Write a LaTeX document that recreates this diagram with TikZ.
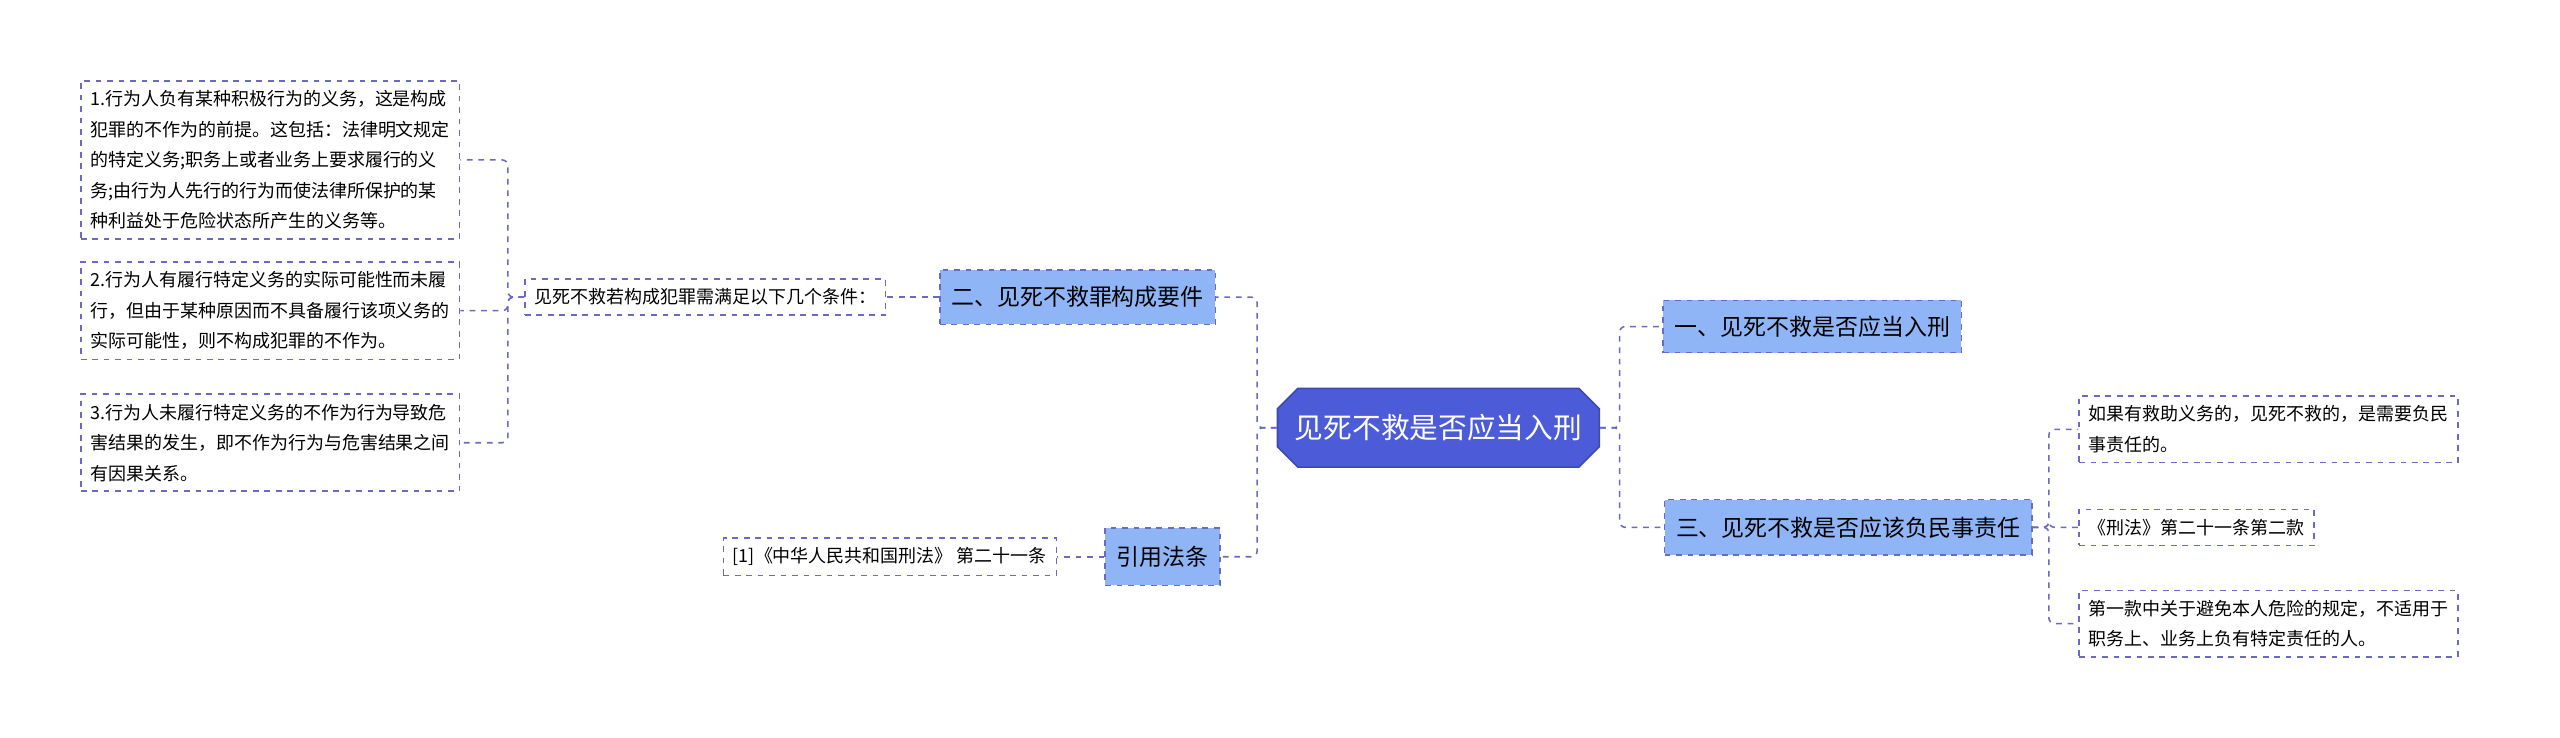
\documentclass[tikz,border=0pt]{standalone}
\usepackage{fontspec}
\setmainfont{Noto Sans CJK SC}
\usetikzlibrary{shapes.misc}
\definecolor{linec}{HTML}{6A6AC0}
\definecolor{rootc}{HTML}{4C5BD8}
\definecolor{subc}{HTML}{8FB5F6}

\begin{document}
\begin{tikzpicture}[x=0.03cm,y=-0.03cm,
root/.style = {chamfered rectangle, chamfered rectangle xsep=0.25cm, fill=rootc, draw=rootc!80!black, text=white, font=\fontsize{15}{18}\selectfont, inner xsep=2pt, minimum height=1.45cm},
sub/.style = {draw=linec, dashed, fill=subc, font=\fontsize{12}{15}\selectfont, minimum height=#1, inner xsep=6pt},
leaf/.style = {draw=linec, dashed, fill=white, font=\fontsize{9.4}{16}\selectfont, align=left, inner sep=5pt},
link/.style = {draw=linec, dashed, thick, rounded corners=3pt},
    thick
                        ]
\useasboundingbox (0,0) rectangle (1568,452);

    \node[root] (R) at (881,262) {见死不救是否应当入刑};

    \node[sub=1cm] (S2) at (660,182) {二、见死不救罪构成要件};
    \node[sub=1.05cm] (S4) at (712,341) {引用法条};
    \node[sub=0.96cm] (S1) at (1110,200) {一、见死不救是否应当入刑};
    \node[sub=1.02cm] (S3) at (1132,323) {三、见死不救是否应该负民事责任};

    \node[leaf] (C) at (432,182) {见死不救若构成犯罪需满足以下几个条件：};
    \node[leaf, anchor=north west] (C1) at (49,49) {1.行为人负有某种积极行为的义务，这是构成\\犯罪的不作为的前提。这包括：法律明文规定\\的特定义务;职务上或者业务上要求履行的义\\务;由行为人先行的行为而使法律所保护的某\\种利益处于危险状态所产生的义务等。};
    \node[leaf, anchor=north west] (C2) at (49,160) {2.行为人有履行特定义务的实际可能性而未履\\行，但由于某种原因而不具备履行该项义务的\\实际可能性，则不构成犯罪的不作为。};
    \node[leaf, anchor=north west] (C3) at (49,241) {3.行为人未履行特定义务的不作为行为导致危\\害结果的发生，即不作为行为与危害结果之间\\有因果关系。};
    \node[leaf] (L) at (545,341) {[1]《中华人民共和国刑法》 第二十一条};

    \node[leaf, anchor=west] (D1) at (1273,263) {如果有救助义务的，见死不救的，是需要负民\\事责任的。};
    \node[leaf, anchor=west] (D2) at (1273,323) {《刑法》第二十一条第二款};
    \node[leaf, anchor=west] (D3) at (1273,382) {第一款中关于避免本人危险的规定，不适用于\\职务上、业务上负有特定责任的人。};

    \foreach \n in {S2,S4}
        \draw[link] (R.west) -- ++(-12,0) |- (\n.east);
    \foreach \n in {S1,S3}
        \draw[link] (R.east) -- ++(12,0) |- (\n.west);
    \foreach \n in {D1,D2,D3}
        \draw[link] (S3.east) -- ++(10,0) |- (\n.west);
    \foreach \n in {C1,C2,C3}
        \draw[link] (C.west) -- ++(-10,0) |- (\n.east);
    \draw[link] (S2.west) -- (C.east);
    \draw[link] (S4.west) -- (L.east);

\end{tikzpicture}
\end{document}
